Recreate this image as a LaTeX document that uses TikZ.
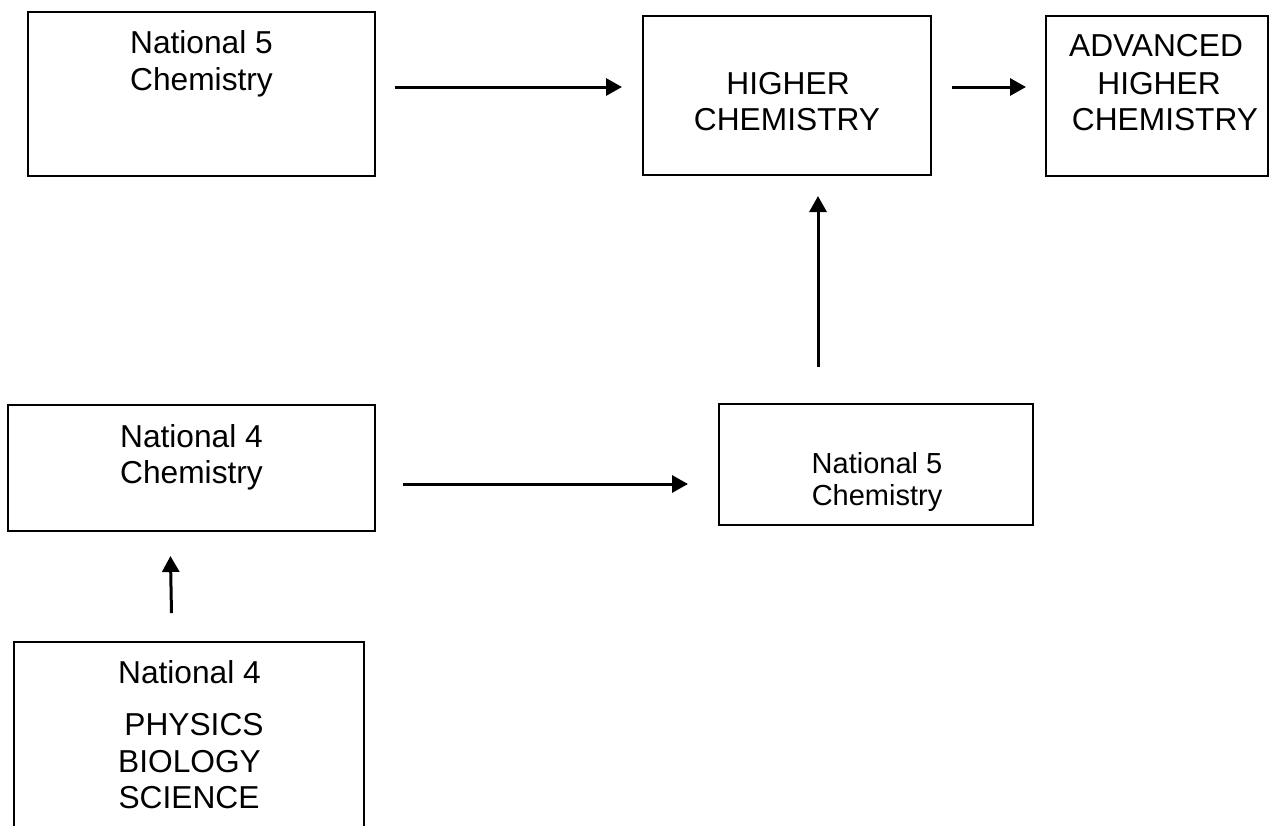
\documentclass[tikz,border=0pt]{standalone}
\usepackage{fontspec}
\setmainfont{Liberation Sans}
\usetikzlibrary{arrows.meta}
\begin{document}
\begin{tikzpicture}[x=1pt,y=-1pt,
  box/.style={draw=black, line width=2pt, rectangle, inner sep=0pt},
  lbl/.style={anchor=base, inner sep=0pt, font=\fontsize{31.7}{36}\selectfont},
  lblsm/.style={anchor=base, inner sep=0pt, font=\fontsize{29}{33}\selectfont},
  link/.style={line width=3pt, -{Triangle[length=16pt,width=17pt]}}]
\fill[white] (0,0) rectangle (1269,825);
\useasboundingbox (0,0) rectangle (1269,825);

% boxes
\node[box, minimum width=347pt, minimum height=164pt] (n5a) at (201.5,94) {};
\node[box, minimum width=288pt, minimum height=159pt] (higher) at (787,95.5) {};
\node[box, minimum width=222pt, minimum height=160pt] (adv) at (1157,96) {};
\node[box, minimum width=367pt, minimum height=126pt] (n4) at (191.5,468) {};
\node[box, minimum width=314pt, minimum height=121pt] (n5b) at (876,464.5) {};
\node[box, minimum width=350pt, minimum height=218pt] (n4s) at (189,751) {};

% labels
\node[lbl] (n5a1) at (201.5,53) {National 5};
\node[lbl] (n5a2) at (201.5,90) {Chemistry};
\node[lbl] (hi1) at (788,94) {HIGHER};
\node[lbl] (hi2) at (787,130) {CHEMISTRY};
\node[lbl] (ad1) at (1156,56) {ADVANCED};
\node[lbl] (ad2) at (1159,94) {HIGHER};
\node[lbl] (ad3) at (1165,130) {CHEMISTRY};
\node[lbl] (n41) at (191.5,447) {National 4};
\node[lbl] (n42) at (191.5,483) {Chemistry};
\node[lblsm] (n5b1) at (877,473) {National 5};
\node[lblsm] (n5b2) at (877,505) {Chemistry};
\node[lbl] (ns1) at (189.5,683) {National 4};
\node[lbl] (ns2) at (194,735) {PHYSICS};
\node[lbl] (ns3) at (189.5,772) {BIOLOGY};
\node[lbl] (ns4) at (189,808) {SCIENCE};

% connectors
\draw[link, shorten <=19pt, shorten >=20pt] ([yshift=7pt]n5a.east) -- ([yshift=8.5pt]higher.west);
\draw[link, shorten <=20pt, shorten >=19pt] ([yshift=8.5pt]higher.east) -- ([yshift=9pt]adv.west);
\draw[link, shorten <=36pt, shorten >=20pt] ([xshift=-58pt]n5b.north) -- ([xshift=31pt]higher.south);
\draw[link, shorten <=27pt, shorten >=30pt] ([yshift=-16pt]n4.east) -- ([yshift=-19.5pt]n5b.west);
\draw[link, shorten <=28pt, shorten >=24pt] ([xshift=-17pt]n4s.north) -- ([xshift=-21.5pt]n4.south);
\end{tikzpicture}
\end{document}
